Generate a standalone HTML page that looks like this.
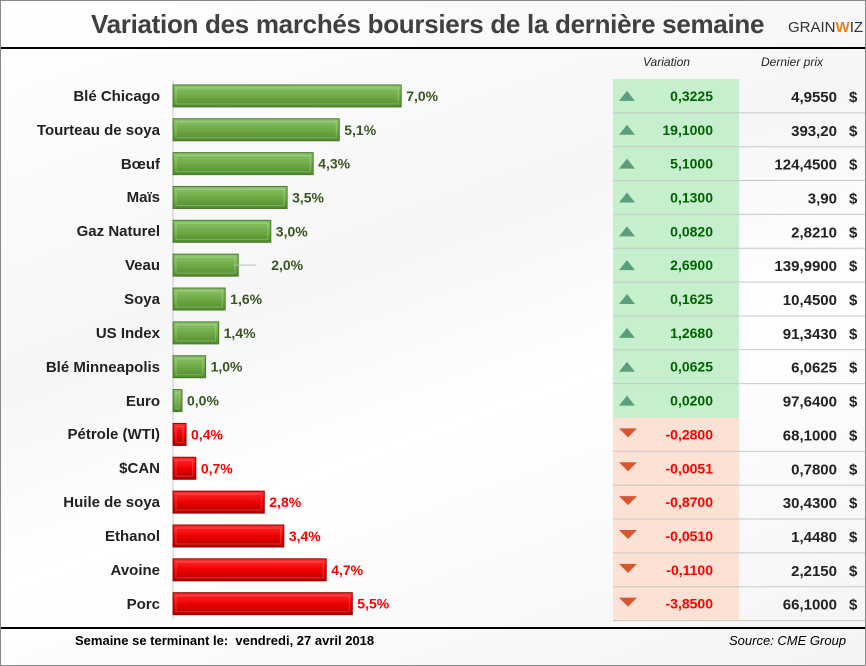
<!DOCTYPE html>
<html><head><meta charset="utf-8"><style>
body{margin:0;width:866px;height:666px;background:#fff;font-family:"Liberation Sans",sans-serif;overflow:hidden}
#root{position:relative;width:864px;height:664px;border:1px solid #888;background:linear-gradient(160deg,#fff 0%,#f6f6f6 40%,#fff 60%,#f4f4f4 100%)}
.title{position:absolute;left:90px;top:8px;font-size:26px;font-weight:bold;color:#404040;letter-spacing:-0.3px}
.logo{position:absolute;left:787px;top:18px;font-size:15px;color:#333}
.hr{position:absolute;left:0;width:864px;background:#000}
.lbl{position:absolute;width:160px;right:705px;text-align:right;font-size:15px;font-weight:bold;color:#222}
.hdr{position:absolute;top:54px;font-size:12px;font-style:italic;color:#222}
.foot{position:absolute;top:632px;font-size:13px}
</style></head><body>
<div id="root">
<div class="title">Variation des marchés boursiers de la dernière semaine</div>
<div class="logo">GRAIN<span style="color:#e8821e;font-weight:bold">W</span>IZ</div>
<div class="hr" style="top:46px;height:2px"></div>
<div class="hdr" style="left:642px">Variation</div>
<div class="hdr" style="left:760px">Dernier prix</div>
<svg id="svg" width="864" height="664" style="position:absolute;left:0;top:0">
<defs>
<linearGradient id="gg" x1="0" y1="0" x2="0" y2="1"><stop offset="0" stop-color="#8cc46a"/><stop offset="0.5" stop-color="#6eab45"/><stop offset="1" stop-color="#4f8a2c"/></linearGradient>
<linearGradient id="rg" x1="0" y1="0" x2="0" y2="1"><stop offset="0" stop-color="#ff3030"/><stop offset="0.5" stop-color="#ee0000"/><stop offset="1" stop-color="#b00000"/></linearGradient>
</defs>
</svg>
<div class="hr" style="top:626px;height:2px"></div>
<div class="foot" style="left:74px;font-weight:bold">Semaine se terminant le:&nbsp; vendredi, 27 avril 2018</div>
<div class="foot" style="left:728px;font-style:italic">Source: CME Group</div>
</div>
<script>
const categories=["Blé Chicago","Tourteau de soya","Bœuf","Maïs","Gaz Naturel","Veau","Soya","US Index","Blé Minneapolis","Euro","Pétrole (WTI)","$CAN","Huile de soya","Ethanol","Avoine","Porc"];
const pctValues=[7.0,5.1,4.3,3.5,3.0,2.0,1.6,1.4,1.0,0.0,0.4,0.7,2.8,3.4,4.7,5.5];
const pctLabels=["7,0%","5,1%","4,3%","3,5%","3,0%","2,0%","1,6%","1,4%","1,0%","0,0%","0,4%","0,7%","2,8%","3,4%","4,7%","5,5%"];
const direction=[1,1,1,1,1,1,1,1,1,1,-1,-1,-1,-1,-1,-1];
const variations=["0,3225","19,1000","5,1000","0,1300","0,0820","2,6900","0,1625","1,2680","0,0625","0,0200","-0,2800","-0,0051","-0,8700","-0,0510","-0,1100","-3,8500"];
const prices=["4,9550","393,20","124,4500","3,90","2,8210","139,9900","10,4500","91,3430","6,0625","97,6400","68,1000","0,7800","30,4300","1,4480","2,2150","66,1000"];
const NS="http://www.w3.org/2000/svg";
const svg=document.getElementById('svg'),root=document.getElementById('root');
const x0=172,xs=32.6,rowTop=78,rowH=33.85,barH=22;
const yc=i=>rowTop+rowH*(i+0.5);
const xw=v=>Math.max(v*xs,9);
function mk(t,a){const e=document.createElementNS(NS,t);for(const k in a)e.setAttribute(k,a[k]);return e;}
const ax=mk('line',{x1:x0,y1:80,x2:x0,y2:618,stroke:'#ccc'});


svg.appendChild(ax);
categories.forEach((c,i)=>{
  const up=direction[i]>0,y=yc(i),w=xw(pctValues[i]);
  const r=mk('rect',{x:x0,y:y-barH/2,width:w,height:barH,fill:up?'url(#gg)':'url(#rg)',stroke:up?'#4a7a2c':'#900'});
  
  
  svg.appendChild(r);
  svg.appendChild(mk('rect',{x:x0+3,y:y-barH/2+3,width:Math.max(w-6,1),height:barH-6,fill:'none',stroke:up?'rgba(255,255,255,0.25)':'rgba(255,255,255,0.2)'}));
  let lx=x0+w+5;
  if(i===5){lx=x0+w+33;svg.appendChild(mk('line',{x1:x0+w-5,y1:y,x2:x0+w+18,y2:y,stroke:'#bbb'}));}
  const t=mk('text',{x:lx,y:y+5,'font-size':14,'font-weight':'bold',fill:up?'#375623':'#ff0000'});
  t.textContent=pctLabels[i];
  
  
  svg.appendChild(t);
  const l=document.createElement('div');l.className='lbl';l.style.top=(y-8)+'px';l.textContent=c;
  
  
  root.appendChild(l);
  const cy=rowTop+rowH*i;
  const cell=mk('rect',{x:612,y:cy,width:126,height:rowH,fill:up?'#c6efce':'#fbe2d5'});
  
  
  svg.appendChild(cell);
  if(i>0&&i!==10)svg.appendChild(mk('line',{x1:612,y1:cy,x2:864,y2:cy,stroke:'#c8c8c8'}));
  const tri=up?mk('polygon',{points:`618,${y+5} 634,${y+5} 626,${y-5}`,fill:'#5b9e7e'}):mk('polygon',{points:`618,${y-6} 636,${y-6} 627,${y+3}`,fill:'#d9552d'});
  
  
  svg.appendChild(tri);
  const vt=mk('text',{x:712,y:y+5,'text-anchor':'end','font-size':14,'font-weight':'bold',fill:up?'#006100':'#ff0000'});
  vt.textContent=variations[i];
  
  
  svg.appendChild(vt);
  const pt=mk('text',{x:836,y:y+6,'text-anchor':'end','font-size':15,'font-weight':'bold',fill:'#222'});
  pt.textContent=prices[i];
  
  
  svg.appendChild(pt);
  const d=mk('text',{x:848,y:y+6,'font-size':15,'font-weight':'bold',fill:'#222'});d.textContent='$';
  
  
  svg.appendChild(d);
});
svg.appendChild(mk('line',{x1:612,y1:rowTop+rowH*16,x2:864,y2:rowTop+rowH*16,stroke:'#c8c8c8'}));
</script>
</body></html>
